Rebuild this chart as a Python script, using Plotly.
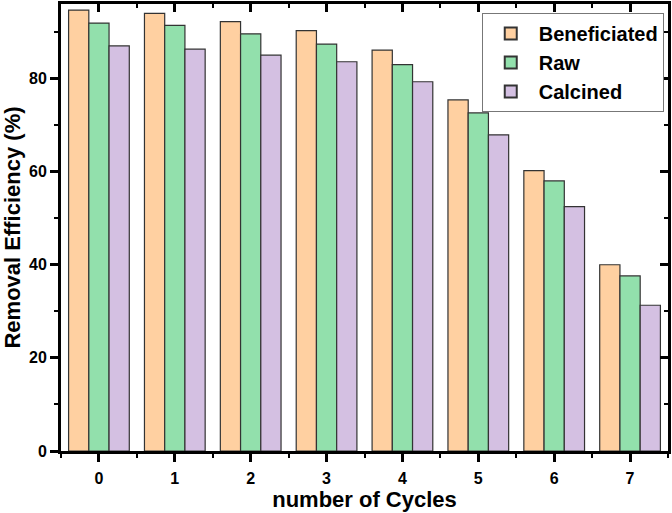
import plotly.graph_objects as go

cycles = [0, 1, 2, 3, 4, 5, 6, 7]
beneficiated = [94.7, 94.0, 92.2, 90.3, 86.1, 75.4, 60.2, 40.0]
raw = [91.9, 91.4, 89.6, 87.4, 83.0, 72.6, 58.0, 37.6]
calcined = [87.0, 86.3, 85.0, 83.6, 79.3, 67.9, 52.5, 31.3]
y_ticks = [0, 20, 40, 60, 80]

series = [
    ("Beneficiated", beneficiated, "#FFD0A1"),
    ("Raw", raw, "#92E0AC"),
    ("Calcined", calcined, "#D4C0E2"),
]

FONT = "Liberation Sans, Arial, sans-serif"

fig = go.Figure()
for name, vals, col in series:
    fig.add_trace(go.Bar(
        x=cycles, y=vals, name=name,
        marker=dict(color=col, line=dict(color="#333333", width=1.2)),
    ))

# empty helper trace so the mirrored inside-tick axes are drawn
fig.add_trace(go.Scatter(x=[], y=[], xaxis="x2", yaxis="y2", showlegend=False, hoverinfo="skip"))

xr = [-0.5, 7.5]
yr = [0, 96]

common = dict(showgrid=False, zeroline=False, showline=True, linecolor="black",
              linewidth=3, tickcolor="black", ticklen=8, tickwidth=3, automargin=False)

fig.update_layout(
    width=672, height=513,
    margin=dict(l=61, r=4, t=4, b=62),
    paper_bgcolor="white", plot_bgcolor="white",
    barmode="group", bargap=0.2, bargroupgap=0,
    font=dict(family=FONT, color="black"),
    xaxis=dict(
        range=xr, tickvals=cycles, ticktext=[str(c) for c in cycles],
        ticks="outside", ticklabelstandoff=3,
        minor=dict(dtick=0.5, tick0=0, ticks="outside", ticklen=4, tickwidth=2, tickcolor="black"),
        tickfont=dict(size=16, weight="bold", family=FONT),
        title=dict(text="number of Cycles", font=dict(size=22, weight="bold", family=FONT), standoff=4),
        **common,
    ),
    yaxis=dict(
        range=yr, tickvals=y_ticks,
        ticks="outside",
        minor=dict(dtick=10, tick0=0, ticks="outside", ticklen=4, tickwidth=2, tickcolor="black"),
        tickfont=dict(size=16, weight="bold", family=FONT),
        title=dict(text="Removal Efficiency (%)", font=dict(size=22, weight="bold", family=FONT), standoff=4),
        **common,
    ),
    xaxis2=dict(
        overlaying="x", side="top", range=xr, tickvals=cycles,
        showticklabels=False, ticks="inside",
        minor=dict(dtick=0.5, tick0=0, ticks="inside", ticklen=4, tickwidth=2, tickcolor="black"),
        **common,
    ),
    yaxis2=dict(
        overlaying="y", side="right", range=yr, tickvals=y_ticks,
        showticklabels=False, ticks="inside",
        minor=dict(dtick=10, tick0=0, ticks="inside", ticklen=4, tickwidth=2, tickcolor="black"),
        **common,
    ),
    legend=dict(
        x=0.993, y=0.98, xanchor="right", yanchor="top",
        bgcolor="white", bordercolor="#777777", borderwidth=1,
        font=dict(size=20, weight="bold", family=FONT),
        tracegroupgap=0, itemsizing="constant", itemwidth=46,
    ),
    showlegend=True,
)

fig.write_html(
    "out.html",
    config={"displayModeBar": False},
    post_script="document.body.style.margin='0';document.body.style.overflow='hidden';",
)
